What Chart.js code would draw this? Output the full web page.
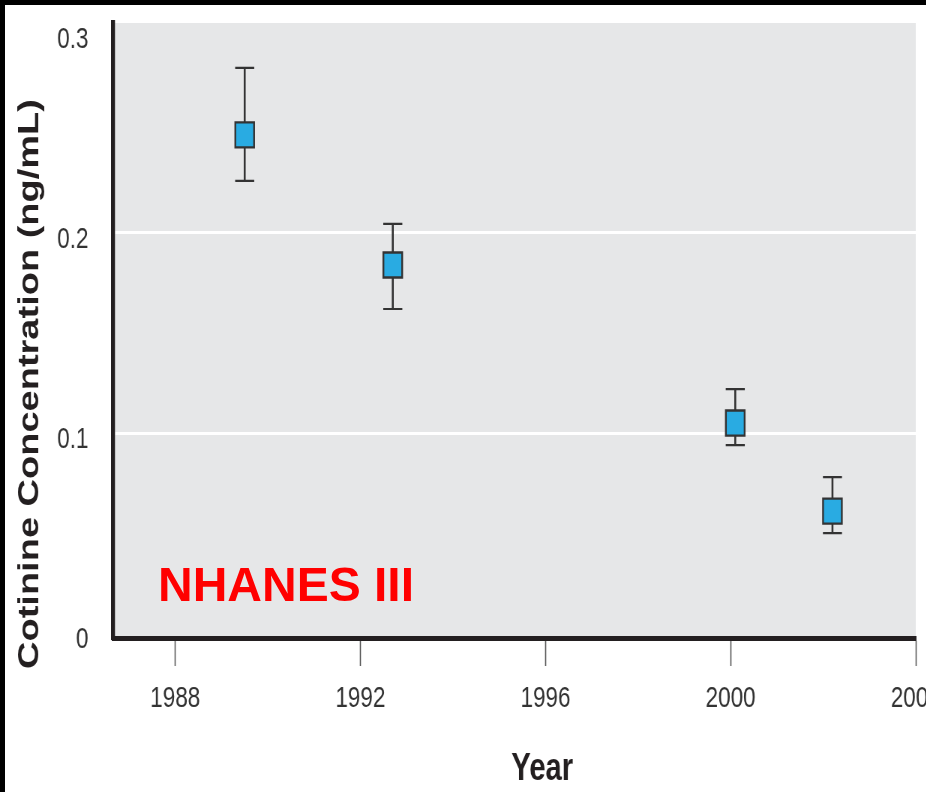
<!DOCTYPE html>
<html>
<head>
<meta charset="utf-8">
<script src="https://cdn.jsdelivr.net/npm/chart.js@4.4.1/dist/chart.umd.min.js"></script>
<style>
  html, body { margin: 0; padding: 0; background: #fff; overflow: hidden; width: 926px; height: 792px; }
  #wrap { position: absolute; left: 0; top: 0; width: 1235px; height: 792px; transform: scaleX(0.75); transform-origin: 0 0; }
  #frameTop { position: absolute; left: 0; top: 0; width: 926px; height: 5px; background: #000; }
  #frameLeft { position: absolute; left: 0; top: 0; width: 5px; height: 792px; background: #000; }
  #tag { position: absolute; left: 158px; top: 561px; font: bold 48px "Liberation Sans", Arial, sans-serif; line-height: 48px; color: #ff0000; white-space: nowrap; }
</style>
</head>
<body>
<div id="wrap"><canvas id="grafico" width="1235" height="792"></canvas></div>
<div id="tag">NHANES III</div>
<div id="frameTop"></div>
<div id="frameLeft"></div>
<script>
// cotinine.js

const anos = [1989.5, 1992.7, 2000.1, 2002.2];
const medias = [0.249, 0.184, 0.105, 0.061];
const superior = [0.2825, 0.2045, 0.122, 0.078];
const inferior = [0.226, 0.162, 0.094, 0.050];
const ticksX = [1988, 1992, 1996, 2000, 2004];
const ticksY = [0, 0.1, 0.2, 0.3];
const tituloY = "Cotinine Concentration (ng/mL)";
const tituloX = "Year";

const fonte = '"Liberation Sans", Arial, Helvetica, sans-serif';

const fundo = {
  id: 'fundo',
  beforeDraw(chart) {
    const { ctx, chartArea: a } = chart;
    ctx.save();
    ctx.fillStyle = '#e6e7e8';
    ctx.fillRect(a.left, a.top, a.right - a.left, a.bottom - a.top);
    ctx.restore();
  }
};

const barras = {
  id: 'barras',
  beforeDatasetsDraw(chart) {
    const { ctx, scales: { x, y } } = chart;
    ctx.save();
    ctx.strokeStyle = '#333';
    anos.forEach((ano, i) => {
      const px = x.getPixelForValue(ano);
      const top = y.getPixelForValue(superior[i]);
      const bot = y.getPixelForValue(inferior[i]);
      ctx.lineWidth = 2.6;
      ctx.beginPath();
      ctx.moveTo(px, top);
      ctx.lineTo(px, bot);
      ctx.stroke();
      ctx.lineWidth = 2.2;
      ctx.beginPath();
      ctx.moveTo(px - 12.7, top);
      ctx.lineTo(px + 12.7, top);
      ctx.moveTo(px - 12.7, bot);
      ctx.lineTo(px + 12.7, bot);
      ctx.stroke();
    });
    ctx.restore();
  }
};

const titulos = {
  id: 'titulos',
  afterDraw(chart) {
    const { ctx } = chart;
    ctx.save();
    ctx.fillStyle = '#231f20';
    ctx.textAlign = 'center';
    ctx.textBaseline = 'middle';
    ctx.font = 'bold 38px ' + fonte;
    ctx.translate(41, 384);
    ctx.rotate(-Math.PI / 2);
    ctx.fillText(tituloY, 0, 0);
    ctx.restore();

    ctx.save();
    ctx.fillStyle = '#231f20';
    ctx.textAlign = 'center';
    ctx.textBaseline = 'alphabetic';
    ctx.font = 'bold 39px ' + fonte;
    ctx.fillText(tituloX, 723, 780);
    ctx.restore();
  }
};

new Chart(document.getElementById('grafico'), {
  type: 'scatter',
  data: {
    datasets: [{
      data: anos.map((a, i) => ({ x: a, y: medias[i] })),
      pointStyle: 'rect',
      pointRadius: 17.7,
      pointHoverRadius: 17.7,
      backgroundColor: '#29abe2',
      borderColor: '#333',
      borderWidth: 2.4,
      showLine: false
    }]
  },
  options: {
    responsive: false,
    animation: false,
    layout: { autoPadding: false, padding: { left: 0, top: 23, right: 14, bottom: 0 } },
    plugins: { legend: { display: false }, tooltip: { enabled: false } },
    scales: {
      x: {
        type: 'linear',
        min: 1986.66,
        max: 2004,
        afterBuildTicks: s => { s.ticks = ticksX.map(v => ({ value: v })); },
        afterFit: s => { s.height = 154; s.paddingLeft = 0; s.paddingRight = 0; },
        grid: { drawOnChartArea: false, drawTicks: true, tickLength: 28, tickColor: '#555', tickWidth: 1.6 },
        border: { display: true, color: '#231f20', width: 5 },
        ticks: {
          color: '#333',
          padding: 15,
          maxRotation: 0,
          autoSkip: false,
          font: { family: fonte, size: 30 },
          callback: v => String(v)
        }
      },
      y: {
        min: -0.0024,
        max: 0.3049,
        afterBuildTicks: s => { s.ticks = ticksY.map(v => ({ value: v })); },
        afterFit: s => { s.width = 151; s.paddingTop = 0; s.paddingBottom = 0; },
        grid: {
          drawTicks: false,
          lineWidth: 3,
          color: c => (c.tick && (c.tick.value === 0.1 || c.tick.value === 0.2)) ? '#ffffff' : 'rgba(0,0,0,0)'
        },
        border: { display: true, color: '#231f20', width: 5.3 },
        ticks: {
          color: '#333',
          padding: 33,
          labelOffset: 7,
          font: { family: fonte, size: 30 },
          callback: v => v === 0 ? '0' : v.toFixed(1)
        }
      }
    }
  },
  plugins: [fundo, barras, titulos]
});
</script>
</body>
</html>
